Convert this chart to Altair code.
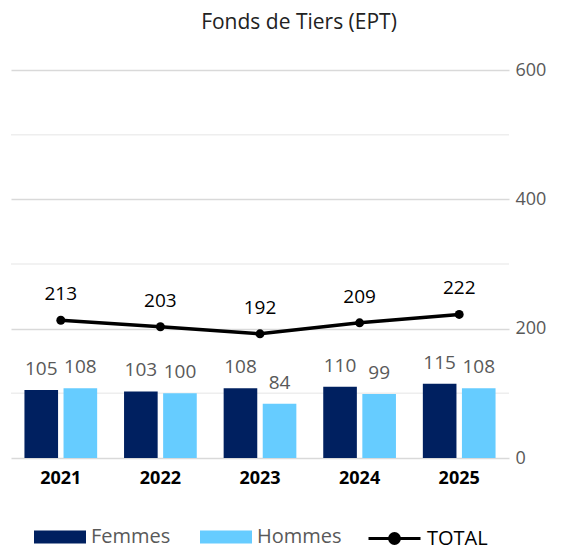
import altair as alt
import pandas as pd

years = ["2021", "2022", "2023", "2024", "2025"]
femmes = [105, 103, 108, 110, 115]
hommes = [108, 100, 84, 99, 108]
total = [213, 203, 192, 209, 222]
bar_series = ["Femmes", "Hommes"]
bar_colors = ["#002060", "#66CCFF"]
total_series = ["TOTAL"]
total_color = ["#000000"]
major_ticks = [0, 200, 400, 600]
minor_ticks = [100, 300, 500]

FONT = "Open Sans"

bars_df = pd.DataFrame(
    [{"year": y, "serie": "Femmes", "value": v} for y, v in zip(years, femmes)]
    + [{"year": y, "serie": "Hommes", "value": v} for y, v in zip(years, hommes)]
)
total_df = pd.DataFrame({"year": years, "value": total, "serie": total_series * len(years)})
minor_df = pd.DataFrame({"v": minor_ticks})

x_scale = alt.Scale(domain=years, paddingInner=0.27, paddingOuter=0.135)
y_scale = alt.Scale(domain=[0, 600])
off_scale = alt.Scale(paddingInner=0.14, paddingOuter=0)

rect_path = "M-1,-0.25L1,-0.25L1,0.25L-1,0.25Z"
line_path = "M-1,0L1,0M0.19,0A0.19,0.19,0,1,1,-0.19,0A0.19,0.19,0,1,1,0.19,0"

LEG_Y = 441

bar_legend = alt.Legend(
    title=None,
    orient="none",
    legendX=23,
    legendY=LEG_Y,
    direction="horizontal",
    symbolType=rect_path,
    symbolSize=2704,
    symbolStrokeWidth=0,
    symbolOpacity=1,
    labelFont=FONT,
    labelFontSize=20,
    labelColor="#595959",
    labelOffset=5,
    columnPadding=29,
)

line_legend = alt.Legend(
    title=None,
    orient="none",
    legendX=356,
    legendY=LEG_Y,
    direction="horizontal",
    symbolType=line_path,
    symbolSize=2704,
    symbolStrokeWidth=3,
    symbolFillColor="#000000",
    symbolStrokeColor="#000000",
    symbolOpacity=1,
    labelFont=FONT,
    labelFontSize=20,
    labelColor="#000000",
    labelOffset=5,
)

x_enc = alt.X(
    "year:N",
    scale=x_scale,
    sort=years,
    axis=alt.Axis(
        title=None,
        labelFont=FONT,
        labelFontSize=18,
        labelFontWeight="bold",
        labelColor="#000000",
        labelPadding=11,
        ticks=False,
        domain=False,
        labelAngle=0,
        grid=False,
    ),
)

minor = alt.Chart(minor_df).mark_rule(color="#eeeeee", strokeWidth=1.5).encode(
    y=alt.Y("v:Q", scale=y_scale)
)

bars = alt.Chart(bars_df).mark_bar().encode(
    x=x_enc,
    xOffset=alt.XOffset("serie:N", sort=bar_series, scale=off_scale),
    y=alt.Y(
        "value:Q",
        scale=y_scale,
        axis=alt.Axis(
            title=None,
            orient="right",
            values=major_ticks,
            labelFont=FONT,
            labelFontSize=18,
            labelColor="#595959",
            labelPadding=6,
            ticks=False,
            domain=False,
            grid=True,
            gridColor="#d9d9d9",
            gridWidth=1.5,
        ),
    ),
    color=alt.Color("serie:N", scale=alt.Scale(domain=bar_series, range=bar_colors), legend=bar_legend),
)

bar_text = alt.Chart(bars_df).mark_text(
    font=FONT, fontSize=19, color="#595959", baseline="alphabetic", dy=-15
).encode(
    x=alt.X("year:N", scale=x_scale, sort=years),
    xOffset=alt.XOffset("serie:N", sort=bar_series, scale=off_scale),
    y=alt.Y("value:Q", scale=y_scale),
    text=alt.Text("value:Q"),
)

line = alt.Chart(total_df).mark_line(strokeWidth=3.5).encode(
    x=alt.X("year:N", scale=x_scale, sort=years),
    y=alt.Y("value:Q", scale=y_scale),
    stroke=alt.Stroke("serie:N", scale=alt.Scale(domain=total_series, range=total_color), legend=line_legend),
)

points = alt.Chart(total_df).mark_point(size=80, filled=True, opacity=1, color="#000000").encode(
    x=alt.X("year:N", scale=x_scale, sort=years),
    y=alt.Y("value:Q", scale=y_scale),
)

line_text = alt.Chart(total_df).mark_text(
    font=FONT, fontSize=19, color="#000000", baseline="alphabetic", dy=-20
).encode(
    x=alt.X("year:N", scale=x_scale, sort=years),
    y=alt.Y("value:Q", scale=y_scale),
    text=alt.Text("value:Q"),
)

chart = alt.layer(minor, bars, bar_text, line, points, line_text).properties(
    width=498,
    height=388,
    padding={"left": 2, "top": 4, "right": 5, "bottom": 2},
    title=alt.TitleParams(
        "Fonds de Tiers (EPT)",
        font=FONT,
        fontSize=21,
        fontWeight="normal",
        color="#222222",
        anchor="middle",
        frame="group",
        dx=39,
        offset=28,
    ),
).configure_view(stroke=None)

chart.save("out.html", embed_options={"renderer": "svg", "actions": False})
